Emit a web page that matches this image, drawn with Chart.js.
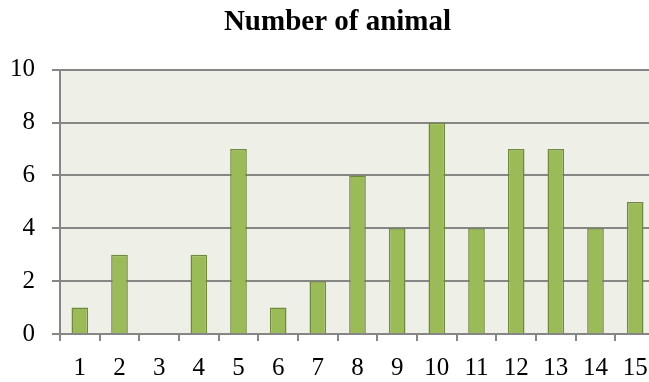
<!DOCTYPE html>
<html>
<head>
<meta charset="utf-8">
<script src="https://cdn.jsdelivr.net/npm/chart.js@4/dist/chart.umd.min.js"></script>
<style>
  html, body { margin: 0; padding: 0; background: #ffffff; overflow: hidden; }
  #wrap { width: 660px; height: 382px; }
</style>
</head>
<body>
<div id="wrap"><canvas id="chart" width="660" height="382"></canvas></div>
<script>
// Animal counts per observation
const categories = ['1','2','3','4','5','6','7','8','9','10','11','12','13','14','15'];
const animalCounts = [1, 3, 0, 3, 7, 1, 2, 6, 4, 8, 4, 7, 7, 4, 5];
const yTicks = [0, 2, 4, 6, 8, 10];

const serif = '"Liberation Serif", "Times New Roman", Times, serif';
const gridGray = '#868686';

// Fill the plotting area with a pale tint before anything else is drawn
const plotBackground = {
  id: 'plotBackground',
  beforeDraw(chart) {
    const { ctx, chartArea: a } = chart;
    ctx.save();
    ctx.fillStyle = '#EEF0E7';
    ctx.fillRect(a.left, a.top, a.right - a.left, a.bottom - a.top);
    ctx.restore();
  }
};

// Centre the title over the visible page width rather than the whole canvas
const titleShift = {
  id: 'titleShift',
  afterLayout(chart) {
    const t = chart.titleBlock;
    if (t) { t.left = 15; t.right = 660; t.width = t.right - t.left; }
  }
};

new Chart(document.getElementById('chart'), {
  type: 'bar',
  data: {
    labels: categories,
    datasets: [{
      label: 'Number of animal',
      data: animalCounts,
      backgroundColor: '#9BBB59',
      borderColor: '#71893F',
      borderWidth: 1.5,
      categoryPercentage: 1,
      barPercentage: 0.42
    }]
  },
  options: {
    responsive: false,
    animation: false,
    layout: { padding: { left: 0, right: 5, top: 0, bottom: 0 } },
    plugins: {
      legend: { display: false },
      tooltip: { enabled: false },
      title: {
        display: true,
        text: 'Number of animal',
        color: '#000000',
        font: { family: serif, size: 29, weight: 'bold', lineHeight: 1.2 },
        padding: { top: 5, bottom: 30 }
      }
    },
    scales: {
      x: {
        offset: true,
        grid: {
          offset: true,
          drawOnChartArea: false,
          drawTicks: true,
          tickLength: 7,
          color: gridGray,
          lineWidth: 2
        },
        border: { display: true, color: gridGray, width: 2 },
        ticks: {
          color: '#000000',
          font: { family: serif, size: 25 },
          padding: 12,
          maxRotation: 0,
          autoSkip: false
        },
        afterFit(scale) { scale.height = 48; }
      },
      y: {
        min: 0,
        max: 10,
        afterBuildTicks(scale) { scale.ticks = yTicks.map(v => ({ value: v })); },
        grid: {
          color: gridGray,
          lineWidth: 2,
          drawTicks: true,
          tickLength: 8
        },
        border: { display: true, color: gridGray, width: 2 },
        ticks: {
          color: '#000000',
          font: { family: serif, size: 25 },
          padding: 17
        },
        afterFit(scale) { scale.width = 60; }
      }
    }
  },
  plugins: [plotBackground, titleShift]
});
</script>
</body>
</html>
